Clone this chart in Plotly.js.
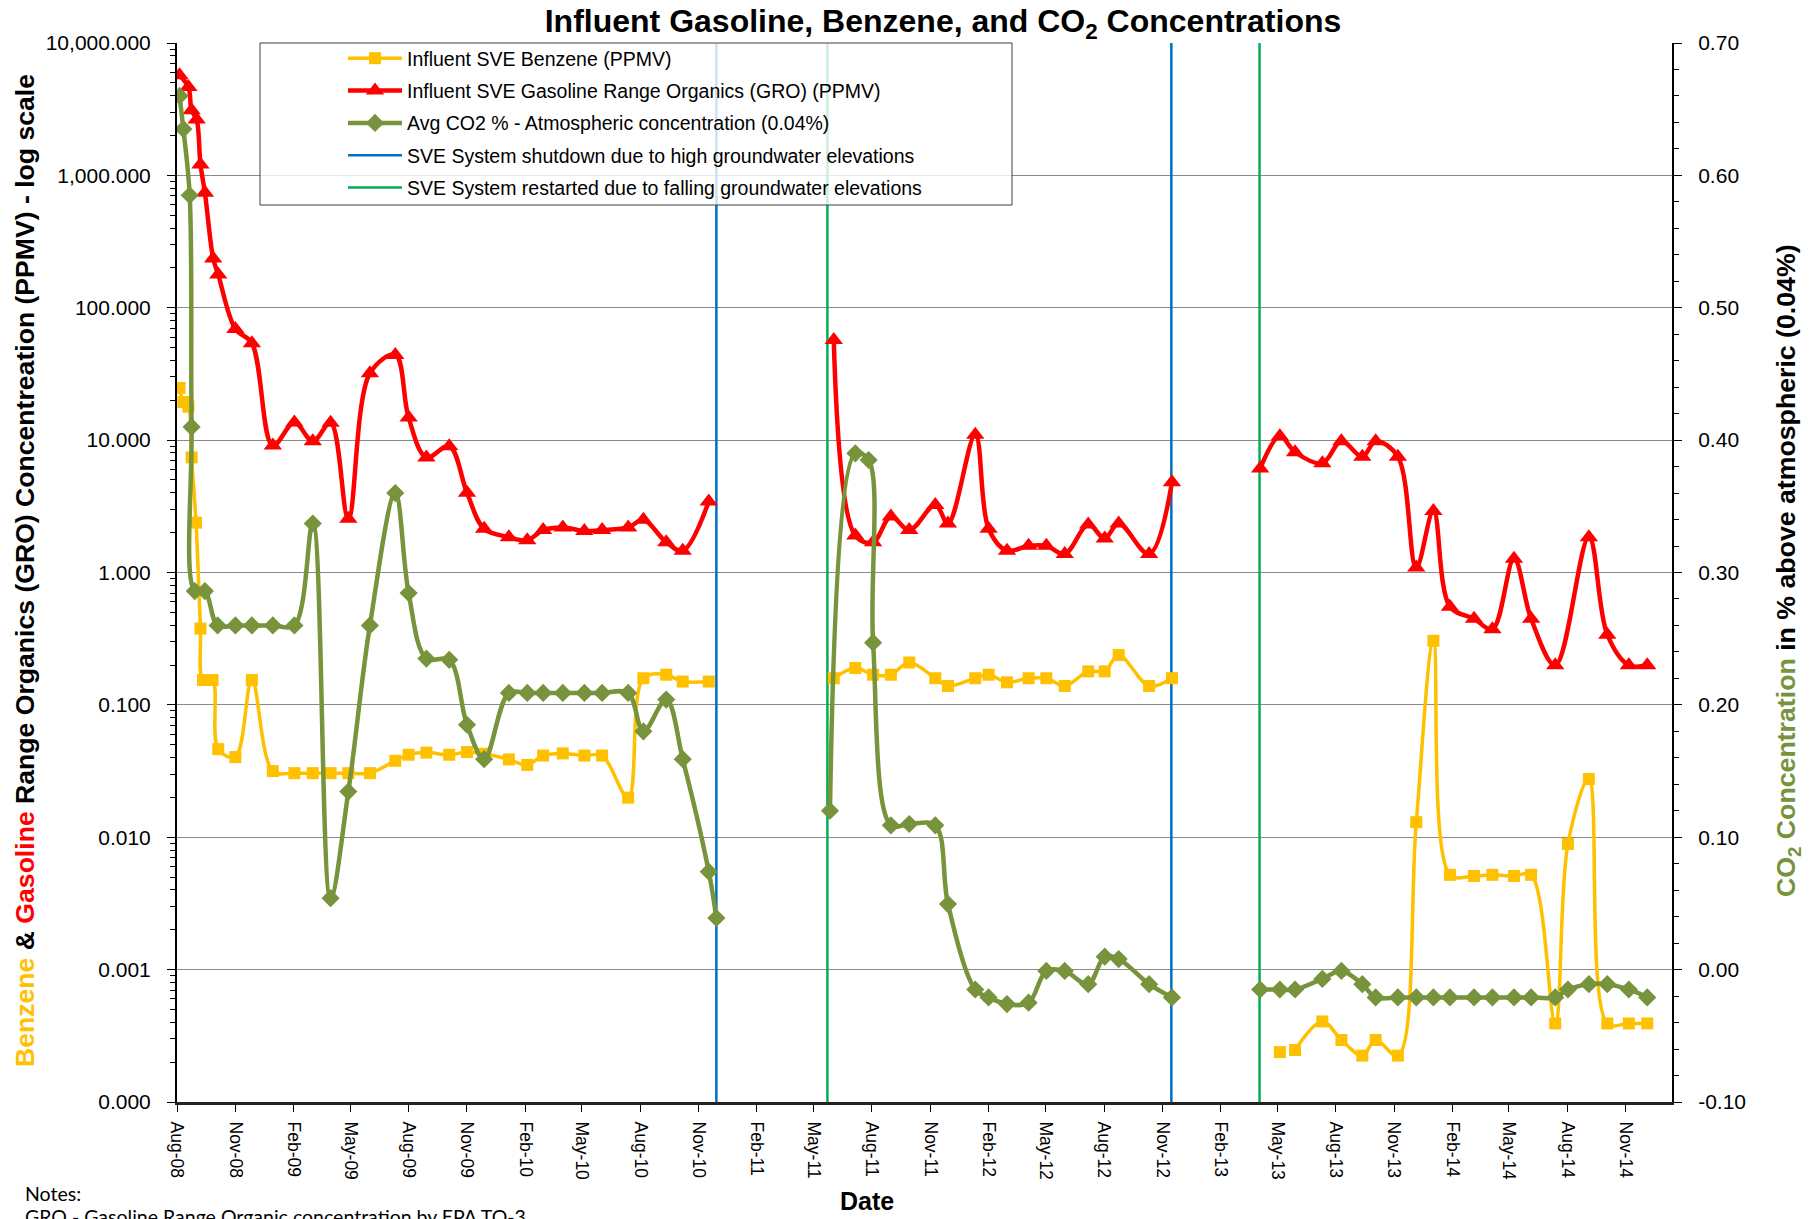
<!DOCTYPE html>
<html>
<head>
<meta charset="utf-8">
<script src="https://cdn.plot.ly/plotly-3.0.1.min.js"></script>
<style>
  html, body { margin: 0; padding: 0; background: #fff; }
  #chart { width: 1820px; height: 1219px; }
</style>
</head>
<body>
<div id="chart"></div>
<script>
// ---------- Data ----------
const groDates = ['2008-08-05','2008-08-19','2008-08-24','2008-09-01','2008-09-07','2008-09-14','2008-09-27','2008-10-05','2008-11-01','2008-11-27','2008-12-30',
  '2009-02-02','2009-03-03','2009-03-31','2009-04-28','2009-06-01','2009-07-11','2009-08-01','2009-08-29','2009-10-04','2009-11-01','2009-11-28',
  '2010-01-06','2010-02-04','2010-03-01','2010-04-01','2010-05-05','2010-06-02','2010-07-13','2010-08-06','2010-09-11','2010-10-07','2010-11-17',
  '2011-02-15',
  '2011-06-02','2011-07-06','2011-08-03','2011-08-31','2011-09-29','2011-11-09','2011-11-29','2012-01-11','2012-02-01','2012-03-01','2012-04-04',
  '2012-05-02','2012-05-31','2012-07-07','2012-08-02','2012-08-24','2012-10-11','2012-11-16',
  '2013-02-01',
  '2013-04-04','2013-05-05','2013-05-29','2013-07-11','2013-08-10','2013-09-12','2013-10-03','2013-11-07','2013-12-06','2014-01-02','2014-01-28',
  '2014-03-07','2014-04-05','2014-05-09','2014-06-05','2014-07-13','2014-09-04','2014-10-03','2014-11-06','2014-12-05'];
const groPPMV = [5700,4650,3100,2640,1210,740,236,178,69,54,9.1,
  13.6,9.8,13.5,2.55,32,44,14.8,7.4,9.0,4.0,2.14,
  1.85,1.75,2.09,2.19,2.06,2.09,2.19,2.5,1.69,1.46,3.44,
  null,
  57,1.9,1.69,2.65,2.09,3.24,2.35,11,2.14,1.46,1.59,
  1.59,1.38,2.3,1.81,2.35,1.38,4.8,
  null,
  6.1,10.7,8.1,6.7,9.8,7.5,9.8,7.5,1.09,2.91,0.552,
  0.447,0.373,1.27,0.447,0.199,1.85,0.339,0.199,0.199];

const benzDates = ['2008-08-05','2008-08-11','2008-08-19','2008-08-24','2008-08-31','2008-09-07','2008-09-11','2008-09-26','2008-10-05','2008-11-01','2008-11-27','2008-12-30',
  '2009-02-02','2009-03-03','2009-03-31','2009-04-28','2009-06-01','2009-07-11','2009-08-01','2009-08-29','2009-10-04','2009-11-01','2009-11-28',
  '2010-01-06','2010-02-04','2010-03-01','2010-04-01','2010-05-05','2010-06-02','2010-07-13','2010-08-06','2010-09-11','2010-10-07','2010-11-17',
  '2011-02-15',
  '2011-06-02','2011-07-06','2011-08-03','2011-08-31','2011-09-29','2011-11-09','2011-11-29','2012-01-11','2012-02-01','2012-03-01','2012-04-04',
  '2012-05-02','2012-05-31','2012-07-07','2012-08-02','2012-08-24','2012-10-11','2012-11-16',
  '2013-02-01',
  '2013-05-05','2013-05-17','2013-05-29','2013-07-11','2013-08-10','2013-09-12','2013-10-03','2013-11-07','2013-12-06','2014-01-02','2014-01-28',
  '2014-03-07','2014-04-05','2014-05-09','2014-06-05','2014-07-13','2014-08-02','2014-09-04','2014-10-03','2014-11-06','2014-12-05'];
const benzPPMV = [24.8,19.4,17.9,7.4,2.38,0.377,0.154,0.154,0.0463,0.0403,0.154,0.0316,
  0.0305,0.0305,0.0305,0.0305,0.0305,0.0378,0.042,0.0436,0.042,0.044,0.0427,
  0.0387,0.0352,0.0414,0.043,0.0414,0.0414,0.0199,0.159,0.169,0.15,0.15,
  null,
  0.159,0.19,0.169,0.169,0.209,0.159,0.139,0.159,0.169,0.148,0.159,
  0.159,0.139,0.179,0.179,0.238,0.139,0.159,
  null,
  0.000238,null,0.000247,0.000406,0.000294,0.000224,0.000294,0.000224,0.013,0.305,0.0052,
  0.0051,0.0052,0.0051,0.0052,0.000392,0.0089,0.0275,0.000392,0.000392,0.000392];

const co2Dates = ['2008-08-05','2008-08-11','2008-08-21','2008-08-24','2008-08-29','2008-09-14','2008-10-04','2008-11-01','2008-11-27','2008-12-30',
  '2009-02-02','2009-03-03','2009-03-31','2009-04-28','2009-06-01','2009-07-11','2009-08-01','2009-08-29','2009-10-04','2009-11-01','2009-11-28',
  '2010-01-06','2010-02-04','2010-03-01','2010-04-01','2010-05-05','2010-06-02','2010-07-13','2010-08-06','2010-09-11','2010-10-07','2010-11-17','2010-11-29',
  '2011-02-15',
  '2011-05-27','2011-07-06','2011-07-27','2011-08-03','2011-08-31','2011-09-29','2011-11-09','2011-11-29','2012-01-11','2012-02-01','2012-03-01',
  '2012-04-04','2012-05-02','2012-05-31','2012-07-07','2012-08-02','2012-08-24','2012-10-11','2012-11-16',
  '2013-02-01',
  '2013-04-04','2013-05-05','2013-05-29','2013-07-11','2013-08-10','2013-09-12','2013-10-03','2013-11-07','2013-12-06','2014-01-02','2014-01-28',
  '2014-03-07','2014-04-05','2014-05-09','2014-06-05','2014-07-13','2014-08-02','2014-09-04','2014-10-03','2014-11-06','2014-12-05'];
const co2Pct = [0.660,0.635,0.585,0.410,0.286,0.286,0.260,0.260,0.260,0.260,
  0.260,0.337,0.054,0.1345,0.260,0.360,0.2845,0.235,0.234,0.185,0.159,
  0.209,0.209,0.209,0.209,0.209,0.209,0.209,0.180,0.204,0.159,0.074,0.039,
  null,
  0.120,0.390,0.385,0.247,0.109,0.110,0.109,0.0495,-0.015,-0.021,-0.026,
  -0.025,-0.001,-0.001,-0.011,0.0098,0.008,-0.011,-0.021,
  null,
  -0.015,-0.015,-0.015,-0.007,-0.001,-0.011,-0.021,-0.021,-0.021,-0.021,-0.021,
  -0.021,-0.021,-0.021,-0.021,-0.021,-0.015,-0.011,-0.011,-0.015,-0.021];

const shutdownDates = ['2010-11-29','2012-11-15'];
const restartDates  = ['2011-05-23','2013-04-03'];

const leftTickVals  = [0.0001,0.001,0.01,0.1,1,10,100,1000,10000];
const leftTickText  = ['0.000','0.001','0.010','0.100','1.000','10.000','100.000','1,000.000','10,000.000'];
const rightTickVals = [-0.1,0,0.1,0.2,0.3,0.4,0.5,0.6,0.7];
const rightTickText = ['-0.10','0.00','0.10','0.20','0.30','0.40','0.50','0.60','0.70'];

// ---------- Build traces ----------
function vLines(dates) {
  const x = [], y = [];
  dates.forEach(d => { x.push(d, d, null); y.push(leftTickVals[0], leftTickVals[leftTickVals.length-1], null); });
  return {x, y};
}
const sd = vLines(shutdownDates), rs = vLines(restartDates);

const BENZ = '#FFC000', GRO = '#FF0000', CO2 = '#77933C', BLUE = '#0070C0', GREEN = '#00B050';

const traces = [
  {x: sd.x, y: sd.y, mode: 'lines', name: 'SVE System shutdown due to high groundwater elevations',
   line: {color: BLUE, width: 2.5}, legendrank: 4, legendgroup: 'g4', hoverinfo: 'skip'},
  {x: rs.x, y: rs.y, mode: 'lines', name: 'SVE System restarted due to falling groundwater elevations',
   line: {color: GREEN, width: 2.5}, legendrank: 5, legendgroup: 'g5', hoverinfo: 'skip'},
  {x: benzDates, y: benzPPMV, mode: 'lines+markers', name: 'Influent SVE Benzene (PPMV)',
   line: {color: BENZ, width: 3.5, shape: 'spline', smoothing: 1}, marker: {symbol: 'square', size: 12, color: BENZ},
   legendrank: 1, legendgroup: 'g1', connectgaps: false},
  {x: groDates, y: groPPMV, mode: 'lines+markers', name: 'Influent SVE Gasoline Range Organics (GRO) (PPMV)',
   line: {color: GRO, width: 4.5, shape: 'spline', smoothing: 1}, marker: {symbol: 'triangle-up', size: 16, color: GRO},
   legendrank: 2, legendgroup: 'g2', connectgaps: false},
  {x: co2Dates, y: co2Pct, yaxis: 'y2', mode: 'lines+markers', name: 'Avg CO2 % - Atmospheric concentration (0.04%)',
   line: {color: CO2, width: 4.5, shape: 'spline', smoothing: 1}, marker: {symbol: 'diamond', size: 14, color: CO2},
   legendrank: 3, legendgroup: 'g3', connectgaps: false}
];

const SANS = '"Liberation Sans", Arial, sans-serif';

// plot area: x 177..1672, y 43..1102
const L = 177, R = 1672, T = 43, B = 1102, W = 1820, H = 1219;
const px2x = p => (p - L) / (R - L);
const px2y = p => (B - p) / (B - T);

const layout = {
  width: W, height: H,
  margin: {l: L, r: W - R, t: T, b: H - B},
  paper_bgcolor: '#fff', plot_bgcolor: '#fff',
  font: {family: SANS, color: '#000'},
  showlegend: true,
  title: {text: '<b>Influent Gasoline, Benzene, and CO<sub>2</sub> Concentrations</b>',
          font: {family: SANS, size: 32, color: '#000'},
          x: px2x(943), xref: 'paper', xanchor: 'center', y: 1 - 21 / H, yref: 'container', yanchor: 'middle'},
  xaxis: {
    type: 'date', range: ['2008-08-01', '2015-01-13'],
    tick0: '2008-08-01', dtick: 'M3', tickformat: '%b-%y', tickangle: 90,
    ticks: 'outside', ticklen: 7, tickcolor: '#000', tickwidth: 1, ticklabelstandoff: 6,
    tickfont: {family: SANS, size: 17.5, color: '#000'},
    showgrid: false, zeroline: false, showline: true, linecolor: '#222', linewidth: 3
  },
  yaxis: {
    type: 'log', range: [-4, 4],
    tickmode: 'array', tickvals: leftTickVals, ticktext: leftTickText,
    ticks: 'outside', ticklen: 8, tickcolor: '#000', ticklabelstandoff: 12,
    tickfont: {family: SANS, size: 21, color: '#000'},
    minor: {ticks: 'outside', ticklen: 5, dtick: 'D1', tickcolor: '#000', showgrid: false},
    showgrid: true, gridcolor: '#8a8a8a', gridwidth: 1,
    zeroline: false, showline: true, linecolor: '#000', linewidth: 2
  },
  yaxis2: {
    overlaying: 'y', side: 'right', range: [-0.1, 0.7],
    tickmode: 'array', tickvals: rightTickVals, ticktext: rightTickText,
    ticks: 'outside', ticklen: 8, tickcolor: '#000', ticklabelstandoff: 12,
    tickfont: {family: SANS, size: 21, color: '#000'},
    minor: {ticks: 'outside', ticklen: 5, dtick: 0.02, tick0: 0, tickcolor: '#000', showgrid: false},
    showgrid: false, zeroline: false, showline: true, linecolor: '#000', linewidth: 2
  },
  legend: {
    x: px2x(343), y: px2y(39), xanchor: 'left', yanchor: 'top', xref: 'paper', yref: 'paper',
    bgcolor: 'rgba(0,0,0,0)', borderwidth: 0,
    font: {family: SANS, size: 19.5, color: '#000'},
    itemwidth: 54, tracegroupgap: 4, traceorder: 'grouped'
  },
  shapes: [
    {type: 'rect', xref: 'paper', yref: 'paper', x0: px2x(260), x1: px2x(1012), y0: px2y(205), y1: px2y(43),
     fillcolor: 'rgba(255,255,255,0.8)', line: {color: '#404040', width: 1}, layer: 'above'}
  ],
  annotations: [
    {text: '<b><span style="color:' + BENZ + '">Benzene</span> &amp; <span style="color:' + GRO + '">Gasoline</span> Range Organics (GRO) Concentreation (PPMV) - log scale</b>',
     xref: 'paper', yref: 'paper', x: px2x(25), y: px2y(571), xanchor: 'center', yanchor: 'middle', textangle: -90,
     showarrow: false, font: {family: SANS, size: 26.6, color: '#000'}},
    {text: '<b><span style="color:' + CO2 + '">CO<sub>2</sub> Concentration</span> in % above atmospheric (0.04%)</b>',
     xref: 'paper', yref: 'paper', x: px2x(1788), y: px2y(571), xanchor: 'center', yanchor: 'middle', textangle: -90,
     showarrow: false, font: {family: SANS, size: 26.7, color: '#000'}},
    {text: '<b>Date</b>', xref: 'paper', yref: 'paper', x: px2x(867), y: px2y(1201), xanchor: 'center', yanchor: 'middle',
     showarrow: false, font: {family: SANS, size: 25, color: '#000'}},
    {text: 'Notes:', xref: 'paper', yref: 'paper', x: px2x(23), y: px2y(1193), xanchor: 'left', yanchor: 'middle',
     showarrow: false, font: {family: 'Lato, "Open Sans", sans-serif', size: 19.5, color: '#000'}},
    {text: 'GRO - Gasoline Range Organic concentration by EPA TO-3', xref: 'paper', yref: 'paper', x: px2x(23), y: px2y(1216),
     xanchor: 'left', yanchor: 'middle', showarrow: false, font: {family: 'Lato, "Open Sans", sans-serif', size: 19.5, color: '#000'}}
  ]
};

Plotly.newPlot('chart', traces, layout, {displayModeBar: false, staticPlot: true});
</script>
</body>
</html>
